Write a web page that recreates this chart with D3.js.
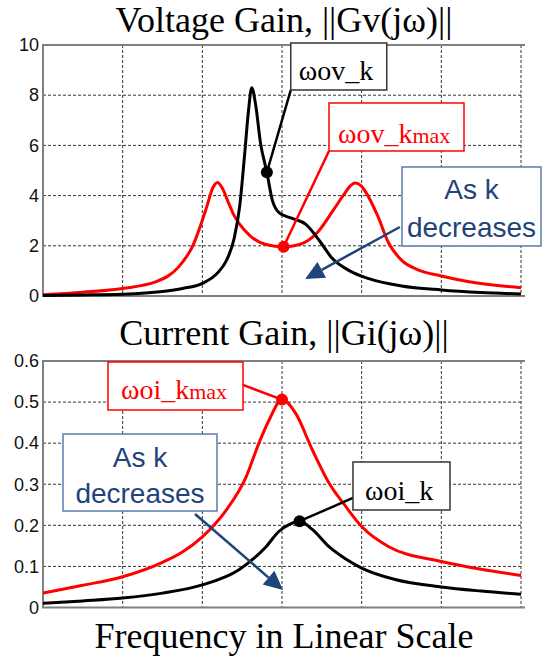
<!DOCTYPE html>
<html>
<head>
<meta charset="utf-8">
<script src="https://cdn.jsdelivr.net/npm/d3@7"></script>
<style>
  body { margin: 0; background: #fff; }
</style>
</head>
<body>
<div id="chart"></div>
<script>
// values, x in grid units (no frequency labels shown)
const gvK = [[0,0.02],[0.5,0.04],[1,0.07],[1.5,0.18],[1.75,0.3],[2,0.5],[2.2,0.95],[2.3,1.4],[2.4,2.3],[2.47,3.6],[2.53,5.6],[2.58,7.4],[2.62,8.3],[2.67,7.6],[2.73,6.1],[2.81,4.93],[2.88,3.8],[2.97,3.3],[3.12,3.1],[3.3,2.85],[3.47,2.2],[3.63,1.5],[3.85,1.0],[4.1,0.68],[4.5,0.4],[5,0.24],[5.5,0.14],[6,0.08]];
const gvKmax = [[0,0.05],[0.5,0.15],[1,0.3],[1.42,0.57],[1.7,1.15],[1.88,2.0],[2.05,3.5],[2.13,4.3],[2.19,4.52],[2.25,4.3],[2.33,3.7],[2.4,3.2],[2.47,2.85],[2.6,2.4],[2.8,2.05],[3.02,1.96],[3.22,2.05],[3.45,2.55],[3.65,3.45],[3.8,4.15],[3.86,4.4],[3.92,4.5],[3.99,4.4],[4.05,4.15],[4.2,3.2],[4.34,2.1],[4.5,1.43],[4.7,1.05],[5,0.8],[5.35,0.57],[6,0.33]];
const giK = [[0,0.01],[0.5,0.016],[1,0.023],[1.5,0.035],[2,0.055],[2.46,0.092],[2.8,0.148],[2.96,0.185],[3.1,0.203],[3.22,0.21],[3.38,0.19],[3.59,0.148],[3.8,0.118],[4,0.096],[4.42,0.068],[5,0.05],[5.5,0.04],[6,0.032]];
const giKmax = [[0,0.035],[0.5,0.054],[1,0.075],[1.5,0.11],[1.75,0.135],[2,0.172],[2.3,0.237],[2.55,0.318],[2.71,0.4],[2.84,0.457],[3,0.506],[3.17,0.473],[3.38,0.384],[3.59,0.303],[3.8,0.246],[4,0.197],[4.34,0.148],[5,0.112],[5.5,0.093],[6,0.078]];

const dotsV = [[2.81, 4.93, "#000"], [3.02, 1.96, "#f00"]];
const dotsI = [[3.0, 0.506, "#f00"], [3.22, 0.21, "#000"]];

const ticksV = [0, 2, 4, 6, 8, 10];
const ticksI = [0, 0.1, 0.2, 0.3, 0.4, 0.5, 0.6];
const gridX = [1, 2, 3, 4, 5, 6];

const titleV = "Voltage Gain, ||Gv(jω)||";
const titleI = "Current Gain, ||Gi(jω)||";
const xTitle = "Frequency in Linear Scale";

const W = 542, H = 659;
const serif = "'Liberation Serif', 'Times New Roman', serif";
const sans = "'Liberation Sans', Arial, sans-serif";
const blue = "#1f4479";

const svg = d3.select("#chart").append("svg")
  .attr("width", W)
  .attr("height", H);

const x = d3.scaleLinear().domain([0, 6]).range([43, 521]);

function drawPanel(p) {
  const y = d3.scaleLinear().domain(p.domain).range([p.bottom, p.top]);
  const g = svg.append("g");

  // dotted grid
  g.selectAll(".gx").data(gridX).join("line")
    .attr("x1", d => x(d)).attr("x2", d => x(d))
    .attr("y1", p.top).attr("y2", p.bottom)
    .attr("stroke", "#333").attr("stroke-width", 1).attr("stroke-dasharray", "3,2");
  g.selectAll(".gy").data(p.ticks.slice(1, -1)).join("line")
    .attr("x1", x(0)).attr("x2", x(6))
    .attr("y1", d => y(d)).attr("y2", d => y(d))
    .attr("stroke", "#333").attr("stroke-width", 1).attr("stroke-dasharray", "3,2");

  // gray frame (left, top, bottom)
  g.append("path")
    .attr("d", `M${x(6) + 4},${p.top}H${x(0)}V${p.bottom}H${x(6) + 4}`)
    .attr("fill", "none").attr("stroke", "#808080").attr("stroke-width", 2);

  const ax = g.append("g")
    .attr("transform", `translate(${x(0) - 1},0)`)
    .call(d3.axisLeft(y).tickValues(p.ticks).tickSize(0).tickPadding(3)
      .tickFormat(d => d === 0 ? "0" : p.fmt(d)));
  ax.select(".domain").remove();
  ax.selectAll("text").attr("font-family", sans).attr("font-size", 18).attr("fill", "#111");

  const line = d3.line().x(d => x(d[0])).y(d => y(d[1])).curve(d3.curveMonotoneX);
  p.series.forEach(s => {
    g.append("path").datum(s.data)
      .attr("d", line)
      .attr("fill", "none").attr("stroke", s.color).attr("stroke-width", 3)
      .attr("stroke-linejoin", "round");
  });

  // leader lines, dots, labels
  p.labels.forEach(l => {
    g.append("line")
      .attr("x1", x(l.from[0])).attr("y1", y(l.from[1]))
      .attr("x2", x(l.to[0])).attr("y2", y(l.to[1]))
      .attr("stroke", l.color).attr("stroke-width", 2.5);
  });
  g.selectAll(".dot").data(p.dots).join("circle")
    .attr("cx", d => x(d[0])).attr("cy", d => y(d[1]))
    .attr("r", 6).attr("fill", d => d[2]);

  p.labels.forEach(l => {
    const bx = x(l.box[0]), by = y(l.box[1]);
    g.append("rect")
      .attr("x", bx).attr("y", by).attr("width", l.w).attr("height", l.h)
      .attr("fill", "#fff").attr("stroke", l.color === "#000" ? "#333" : l.color)
      .attr("stroke-width", 1.5);
    const t = g.append("text")
      .attr("x", bx + l.pad).attr("y", by + l.base)
      .attr("font-family", serif).attr("font-size", 28).attr("fill", l.color)
      .text(l.text);
    if (l.sub) t.append("tspan").attr("font-size", 22).text(l.sub);
  });

  // "As k decreases" note with arrow
  const n = p.note;
  const nx = x(n.box[0]), ny = y(n.box[1]);
  g.append("rect")
    .attr("x", nx).attr("y", ny).attr("width", n.w).attr("height", n.h)
    .attr("fill", "#fff").attr("stroke", "#5a7bab").attr("stroke-width", 1.5);
  ["As k", "decreases"].forEach((s, i) => {
    g.append("text")
      .attr("x", nx + n.w / 2).attr("y", ny + n.base[i])
      .attr("text-anchor", "middle")
      .attr("font-family", sans).attr("font-size", 28).attr("fill", blue)
      .text(s);
  });
  const x1 = x(n.from[0]), y1 = y(n.from[1]), x2 = x(n.to[0]), y2 = y(n.to[1]);
  const ang = Math.atan2(y2 - y1, x2 - x1);
  const len = 19, half = 9;
  const bxp = x2 - len * Math.cos(ang), byp = y2 - len * Math.sin(ang);
  g.append("line")
    .attr("x1", x1).attr("y1", y1).attr("x2", bxp).attr("y2", byp)
    .attr("stroke", blue).attr("stroke-width", 2.5);
  g.append("path")
    .attr("d", `M${x2},${y2}L${bxp + half * Math.sin(ang)},${byp - half * Math.cos(ang)}L${bxp - half * Math.sin(ang)},${byp + half * Math.cos(ang)}Z`)
    .attr("fill", blue);

  svg.append("text")
    .attr("x", 284).attr("y", p.titleY)
    .attr("text-anchor", "middle")
    .attr("font-family", serif).attr("font-size", 36).attr("fill", "#000")
    .text(p.title);
}

drawPanel({
  title: titleV, titleY: 32,
  domain: [0, 10], top: 45, bottom: 296,
  ticks: ticksV, fmt: d3.format("d"),
  series: [{ data: gvKmax, color: "#f00" }, { data: gvK, color: "#000" }],
  dots: dotsV,
  labels: [
    { text: "ωov_k", sub: "", color: "#000", box: [3.11, 10.08], w: 96, h: 47, pad: 8, base: 37,
      from: [3.11, 8.2], to: [2.81, 4.93] },
    { text: "ωov_k", sub: "max", color: "#f00", box: [3.59, 7.69], w: 135, h: 48, pad: 9, base: 40,
      from: [3.59, 5.78], to: [3.02, 1.96] }
  ],
  note: { box: [4.506, 5.14], w: 139, h: 79, base: [32, 70], from: [4.48, 2.75], to: [3.29, 0.68] }
});

drawPanel({
  title: titleI, titleY: 345,
  domain: [0, 0.6], top: 361, bottom: 607.5,
  ticks: ticksI, fmt: d3.format(".1f"),
  series: [{ data: giKmax, color: "#f00" }, { data: giK, color: "#000" }],
  dots: dotsI,
  labels: [
    { text: "ωoi_k", sub: "max", color: "#f00", box: [0.816, 0.5976], w: 135, h: 48, pad: 13, base: 37,
      from: [2.51, 0.5417], to: [3.0, 0.506] },
    { text: "ωoi_k", sub: "", color: "#000", box: [3.891, 0.3542], w: 97, h: 48, pad: 12, base: 38,
      from: [3.891, 0.2666], to: [3.22, 0.21] }
  ],
  note: { box: [0.251, 0.4223], w: 154, h: 77, base: [33, 69], from: [1.908, 0.2276], to: [3.012, 0.0426] }
});

svg.append("text")
  .attr("x", 284).attr("y", 648)
  .attr("text-anchor", "middle")
  .attr("font-family", serif).attr("font-size", 36).attr("fill", "#000")
  .text(xTitle);
</script>
</body>
</html>
